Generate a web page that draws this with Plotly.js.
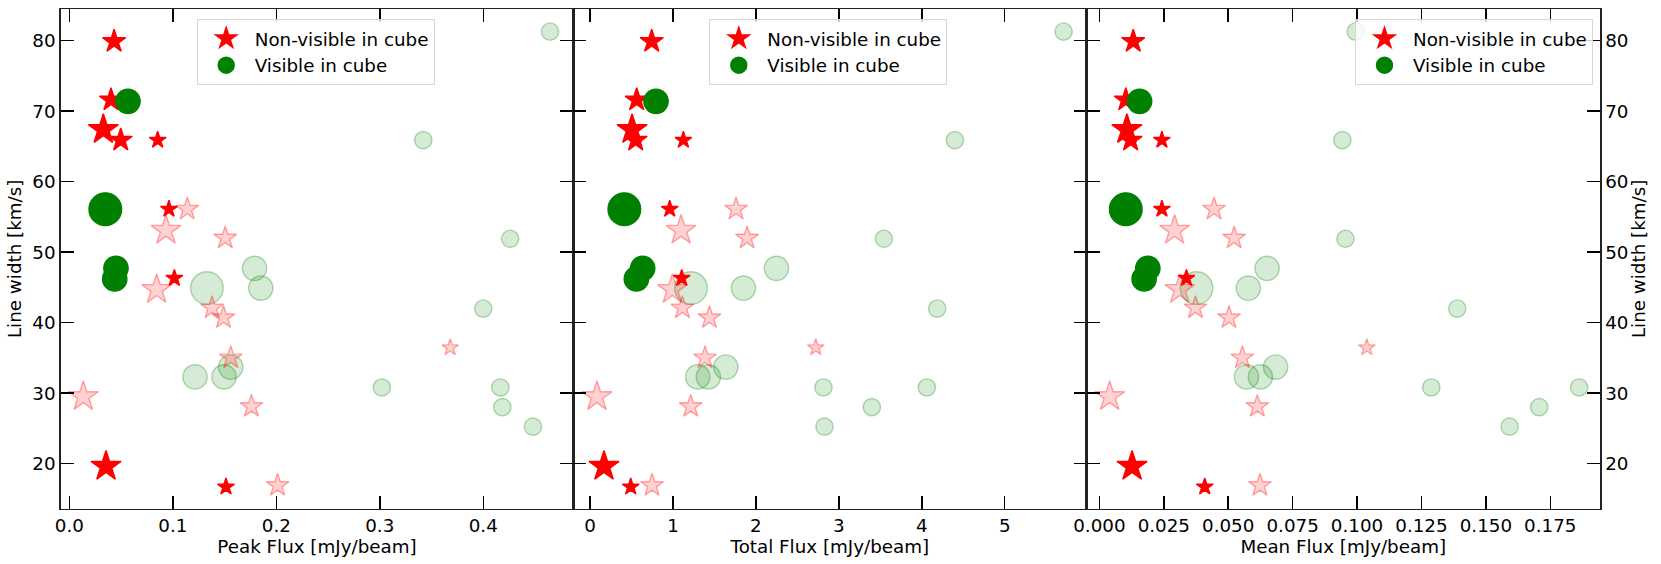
<!DOCTYPE html>
<html>
<head>
<meta charset="utf-8">
<script src="https://cdn.plot.ly/plotly-3.0.1.min.js"></script>
<style>
  html, body {margin: 0; padding: 0; background: #fff;}
  #chart {width: 1661px; height: 564px;}
</style>
</head>
<body>
<div id="chart"></div>
<script>
// Non-visible in cube, detected (solid red stars)
let nvWidth = [79.9, 71.6, 67.4, 65.9, 65.9, 56.1, 46.3, 19.6, 16.7];
let nvPeak = [0.0433, 0.0403, 0.0329, 0.0497, 0.0854, 0.0963, 0.1015, 0.0355, 0.1514];
let nvTotal = [0.744, 0.563, 0.507, 0.551, 1.126, 0.961, 1.106, 0.169, 0.491];
let nvMean = [0.01315, 0.01025, 0.01068, 0.01213, 0.02426, 0.02426, 0.0338, 0.0127, 0.0409];
let nvLevel = [2, 2, 3, 2, 1, 1, 1, 3, 1];

// Visible in cube, detected (solid green circles)
let vWidth = [71.4, 56.1, 47.7, 46.2];
let vPeak = [0.0567, 0.0348, 0.0451, 0.0439];
let vTotal = [0.796, 0.414, 0.635, 0.559];
let vMean = [0.0156, 0.01025, 0.0188, 0.01735];
let vLevel = [2, 3, 2, 2];

// Non-visible in cube, faint (pale stars)
let nvFaintWidth = [56.1, 53.1, 52.0, 44.7, 42.1, 40.7, 36.45, 35.0, 29.5, 28.1, 16.9];
let nvFaintPeak = [0.114, 0.0934, 0.1507, 0.0844, 0.138, 0.149, 0.368, 0.156, 0.0135, 0.176, 0.2013];
let nvFaintTotal = [1.761, 1.098, 1.894, 0.993, 1.114, 1.44, 2.722, 1.387, 0.084, 1.214, 0.748];
let nvFaintMean = [0.0445, 0.0292, 0.0523, 0.0312, 0.0373, 0.0503, 0.1038, 0.0555, 0.0040, 0.0613, 0.0623];
let nvFaintLevel = [2, 3, 2, 3, 2, 2, 1, 2, 3, 2, 2];

// Visible in cube, faint (pale circles)
let vFaintWidth = [65.9, 81.3, 51.9, 47.7, 44.9, 44.9, 42.0, 33.7, 32.3, 32.3, 30.8, 30.8, 28.0, 25.25];
let vFaintPeak = [0.342, 0.4645, 0.426, 0.179, 0.185, 0.133, 0.400, 0.156, 0.1215, 0.1495, 0.302, 0.4165, 0.4184, 0.448];
let vFaintTotal = [4.399, 5.71, 3.543, 2.248, 1.85, 1.218, 4.186, 1.637, 1.299, 1.427, 2.815, 4.061, 3.398, 2.827];
let vFaintMean = [0.0943, 0.0995, 0.0955, 0.0651, 0.0578, 0.0377, 0.1389, 0.0684, 0.0571, 0.0625, 0.1288, 0.1862, 0.1707, 0.1592];
let vFaintLevel = [1, 1, 1, 2, 2, 3, 1, 2, 2, 2, 1, 1, 1, 1];

let xTitles = ['Peak Flux [mJy/beam]', 'Total Flux [mJy/beam]', 'Mean Flux [mJy/beam]'];
let yTitle = 'Line width [km/s]';
let legendNames = ['Non-visible in cube', 'Visible in cube'];

let font = 'DejaVu Sans, Liberation Sans, sans-serif';
let fs = 18.3;

let starSize = lv => [0, 12.6, 17.3, 22.6][lv];
let circleSize = lv => [0, 17.3, 24.3, 32.6][lv];

let panels = [
  {x: [nvPeak, vPeak, nvFaintPeak, vFaintPeak], xa: 'x', ya: 'y', leg: 'legend'},
  {x: [nvTotal, vTotal, nvFaintTotal, vFaintTotal], xa: 'x2', ya: 'y2', leg: 'legend2'},
  {x: [nvMean, vMean, nvFaintMean, vFaintMean], xa: 'x3', ya: 'y3', leg: 'legend3'}
];

let data = [];
panels.forEach(p => {
  data.push({
    x: p.x[3], y: vFaintWidth, xaxis: p.xa, yaxis: p.ya,
    type: 'scatter', mode: 'markers', showlegend: false, hoverinfo: 'skip',
    marker: {symbol: 'circle', size: vFaintLevel.map(circleSize), opacity: 1,
      color: 'rgba(0,128,0,0.16)', line: {color: 'rgba(0,128,0,0.3)', width: 1.4}}
  });
  data.push({
    x: p.x[2], y: nvFaintWidth, xaxis: p.xa, yaxis: p.ya,
    type: 'scatter', mode: 'markers', showlegend: false, hoverinfo: 'skip',
    marker: {symbol: 'star', size: nvFaintLevel.map(starSize), opacity: 1,
      color: 'rgba(255,0,0,0.18)', line: {color: 'rgba(255,0,0,0.33)', width: 1.4}}
  });
  data.push({
    x: p.x[0], y: nvWidth, xaxis: p.xa, yaxis: p.ya, name: legendNames[0], legend: p.leg,
    type: 'scatter', mode: 'markers',
    marker: {symbol: 'star', size: nvLevel.map(starSize), color: '#ff0000', opacity: 1,
      line: {color: '#ff0000', width: 1.4}}
  });
  data.push({
    x: p.x[1], y: vWidth, xaxis: p.xa, yaxis: p.ya, name: legendNames[1], legend: p.leg,
    type: 'scatter', mode: 'markers',
    marker: {symbol: 'circle', size: vLevel.map(circleSize), color: '#008000', opacity: 1,
      line: {color: '#008000', width: 1.4}}
  });
});

let W = 1661, H = 564;
let yDom = [1 - 508.7 / H, 1 - 9 / H];
let xEdges = [60.7, 573.3, 1086.5, 1600];

let baseAxis = {
  showline: true, linecolor: '#222', linewidth: 1.5,
  mirror: 'ticks', ticks: 'inside', ticklen: 13, tickwidth: 1.5, tickcolor: '#000',
  showgrid: false, zeroline: false, automargin: false,
  tickfont: {family: font, size: fs, color: '#000'}
};

let xaxis = (i, range, dtick, fmt) => Object.assign({}, baseAxis, {
  domain: [xEdges[i] / W, xEdges[i + 1] / W], anchor: i ? 'y' + (i + 1) : 'y',
  range: range, dtick: dtick, tick0: 0, tickformat: fmt,
  title: {text: xTitles[i], font: {family: font, size: fs, color: '#000'}, standoff: 4}
});

let legendBox = (x, xanchor) => ({
  x: x, y: 1 - 19 / H, xanchor: xanchor, yanchor: 'top',
  bgcolor: 'rgba(255,255,255,0.8)', bordercolor: '#d6d6d6', borderwidth: 1,
  font: {family: font, size: fs, color: '#000'}, itemsizing: 'trace', itemwidth: 47
});

let layout = {
  width: W, height: H,
  margin: {l: 0, r: 0, t: 0, b: 0},
  paper_bgcolor: '#fff', plot_bgcolor: '#fff',
  hovermode: false,
  xaxis: xaxis(0, [-0.0083, 0.487], 0.1, '.1f'),
  xaxis2: xaxis(1, [-0.2013, 5.986], 1, 'd'),
  xaxis3: xaxis(2, [-0.005, 0.1943], 0.025, '.3f'),
  yaxis: Object.assign({}, baseAxis, {
    domain: yDom, anchor: 'x', range: [13.6, 84.5], dtick: 10, tick0: 0,
    title: {text: yTitle, font: {family: font, size: fs, color: '#000'}, standoff: 6}
  }),
  yaxis2: Object.assign({}, baseAxis, {
    domain: yDom, anchor: 'x2', matches: 'y', dtick: 10, tick0: 0, showticklabels: false
  }),
  yaxis3: Object.assign({}, baseAxis, {
    domain: yDom, anchor: 'x3', matches: 'y', side: 'right', dtick: 10, tick0: 0,
    title: {text: yTitle, font: {family: font, size: fs, color: '#000'}, standoff: 3}
  }),
  legend: legendBox(196.7 / W, 'left'),
  legend2: legendBox(709.3 / W, 'left'),
  legend3: legendBox(1593 / W, 'right')
};

Plotly.newPlot('chart', data, layout, {displayModeBar: false, staticPlot: true});
</script>
</body>
</html>
